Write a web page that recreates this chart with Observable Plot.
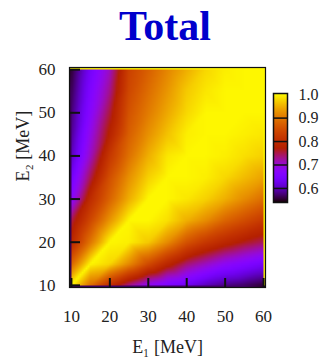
<!DOCTYPE html>
<html>
<head>
<meta charset="utf-8">
<script src="https://cdn.jsdelivr.net/npm/d3@7"></script>
<script src="https://cdn.jsdelivr.net/npm/@observablehq/plot@0.6"></script>
<style>
  html, body { margin: 0; padding: 0; background: #fff; }
  #wrap { position: relative; width: 322px; height: 358px; overflow: hidden; font-family: 'Liberation Serif', 'Times New Roman', serif; }
  #title { position: absolute; left: 0; top: 5px; width: 330px; text-align: center; font-weight: bold; font-size: 42px; line-height: 42px; color: #0000cc; }
  #main { position: absolute; left: 0; top: 50px; }
  #bar { position: absolute; left: 265px; top: 80px; }
</style>
</head>
<body>
<div id="wrap"><div id="title"></div><div id="main"></div><div id="bar"></div></div>
<script>
const title = "Total";
const xLabel = "E₁ [MeV]";
const yLabel = "E₂ [MeV]";

// sample columns (E1) and rows (E2, top to bottom)
const e1 = [10, 15, 20, 25, 30, 35, 40, 45, 50, 55, 60];
const e2 = [60, 55, 50, 45, 40, 35, 30, 25, 20, 15, 10];

// values, one row per E2, columns follow e1
const row60 = [0.555, 0.64, 0.71, 0.835, 0.875, 0.915, 0.95, 0.98, 0.995, 1.00, 1.00];
const row55 = [0.565, 0.655, 0.73, 0.845, 0.89, 0.93, 0.97, 0.99, 1.00, 1.00, 1.00];
const row50 = [0.575, 0.67, 0.755, 0.86, 0.905, 0.945, 0.98, 1.00, 1.00, 1.00, 1.00];
const row45 = [0.585, 0.69, 0.78, 0.875, 0.925, 0.965, 0.995, 1.00, 1.00, 0.995, 0.99];
const row40 = [0.60, 0.71, 0.82, 0.895, 0.95, 0.99, 1.00, 1.00, 0.995, 0.985, 0.975];
const row35 = [0.635, 0.75, 0.855, 0.925, 0.975, 1.00, 1.00, 0.995, 0.98, 0.96, 0.94];
const row30 = [0.67, 0.80, 0.88, 0.95, 1.00, 1.00, 0.99, 0.975, 0.95, 0.92, 0.89];
const row25 = [0.75, 0.845, 0.93, 1.00, 1.00, 0.985, 0.95, 0.92, 0.88, 0.85, 0.82];
const row20 = [0.79, 0.90, 1.00, 0.995, 0.97, 0.92, 0.86, 0.82, 0.79, 0.765, 0.745];
const row15 = [0.88, 1.00, 0.98, 0.92, 0.85, 0.79, 0.74, 0.71, 0.68, 0.66, 0.64];
const row10 = [1.00, 0.89, 0.80, 0.73, 0.68, 0.65, 0.63, 0.60, 0.58, 0.57, 0.555];

// extra samples read along the diagonal E1 = E2 (between the rows above)
const diagE = [12.5, 17.5, 22.5, 27.5, 32.5, 37.5, 42.5, 47.5, 52.5, 57.5];
const diagValue = [1.00, 1.00, 1.00, 1.00, 1.00, 1.00, 1.00, 1.00, 1.00, 1.00];

const axisTicks = [10, 20, 30, 40, 50, 60];
const legendTicks = [0.6, 0.7, 0.8, 0.9, 1.0];
const colorDomain = [0.54, 1.005];

// gnuplot default pm3d palette (rgbformulae 7,5,15)
const gnuplot = t => {
  const r = Math.sqrt(Math.max(0, t));
  const g = t * t * t;
  const b = Math.max(0, Math.sin(2 * Math.PI * t));
  return `rgb(${Math.round(255 * r)},${Math.round(255 * g)},${Math.round(255 * b)})`;
};
const colorScale = () => ({type: "linear", domain: colorDomain, interpolate: gnuplot, clamp: true});

const rows = [row60, row55, row50, row45, row40, row35, row30, row25, row20, row15, row10];
const samples = [];
e2.forEach((y, j) => e1.forEach((x, i) => samples.push({e1: x, e2: y, v: rows[j][i]})));
diagE.forEach((d, k) => samples.push({e1: d, e2: d, v: diagValue[k]}));

const xDomain = [e1[0] - 0.5, e1[e1.length - 1] + 0.5];
const yDomain = [e2[e2.length - 1] - 0.5, e2[0] + 0.5];

document.getElementById("title").textContent = title;

const font = "'Liberation Serif', 'Times New Roman', serif";

const main = Plot.plot({
  width: 270,
  height: 308,
  marginLeft: 69,
  marginRight: 5,
  marginTop: 17,
  marginBottom: 71,
  style: {fontFamily: font, fontSize: "17px", color: "#222", background: "transparent", overflow: "visible"},
  x: {domain: xDomain},
  y: {domain: yDomain},
  color: colorScale(),
  marks: [
    Plot.raster(samples, {x: "e1", y: "e2", fill: "v", interpolate: "barycentric", pixelSize: 2, clip: true}),
    Plot.frame({stroke: "#111", strokeWidth: 1.2}),
    Plot.axisX(axisTicks, {tickSize: -9, strokeWidth: 2, stroke: "#111", tickFormat: () => "", label: null}),
    Plot.axisY(axisTicks, {tickSize: -11, strokeWidth: 2, stroke: "#111", tickFormat: () => "", label: null}),
    Plot.axisX(axisTicks, {tickSize: 0, tickPadding: 22, label: null, fontFamily: font}),
    Plot.axisY(axisTicks, {tickSize: 0, tickPadding: 14, label: null, fontFamily: font}),
    Plot.text([xLabel], {text: d => d, frameAnchor: "bottom", lineAnchor: "bottom", dy: 65, fontSize: 18, fill: "#222", fontFamily: font}),
    Plot.text([yLabel], {text: d => d, frameAnchor: "left", rotate: -90, dx: -46, dy: 4, fontSize: 18, fill: "#222", fontFamily: font})
  ]
});
document.getElementById("main").appendChild(main);

const bar = Plot.plot({
  width: 57,
  height: 130,
  marginLeft: 8,
  marginRight: 35,
  marginTop: 13,
  marginBottom: 8,
  style: {fontFamily: font, fontSize: "16px", color: "#222", background: "transparent", overflow: "visible"},
  x: {domain: [0, 1], axis: null},
  y: {domain: colorDomain},
  color: colorScale(),
  marks: [
    Plot.raster({fill: (x, y) => y, x1: 0, x2: 1, y1: colorDomain[0], y2: colorDomain[1], pixelSize: 1}),
    Plot.ruleY(legendTicks.filter(v => v < 1), {stroke: "#111", strokeWidth: 1.5}),
    Plot.frame({stroke: "#111", strokeWidth: 1.5}),
    Plot.axisY(legendTicks, {anchor: "right", tickSize: 0, tickPadding: 11, tickFormat: d3.format(".1f"), label: null, fontFamily: font})
  ]
});
document.getElementById("bar").appendChild(bar);
</script>
</body>
</html>
